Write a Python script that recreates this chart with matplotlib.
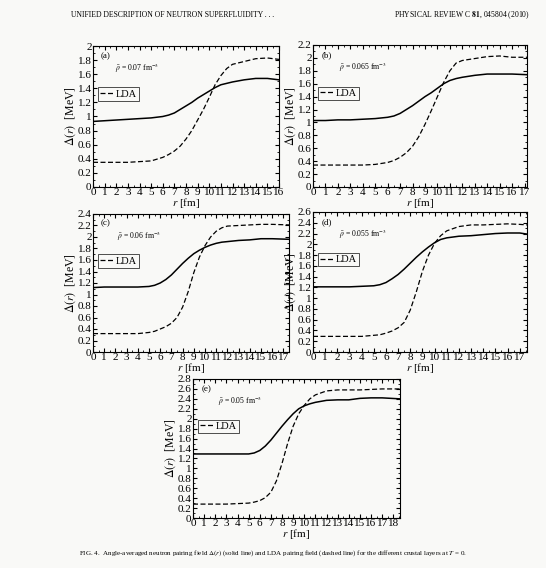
#!/usr/bin/env python3
"""Pairing field profiles, five crustal layers (FIG. 4 recreation)."""

import matplotlib.pyplot as plt
from matplotlib.ticker import MultipleLocator

plt.rcParams['font.family'] = ['Liberation Serif', 'DejaVu Serif']
plt.rcParams['mathtext.fontset'] = 'stix'

# panel labels, mean densities, axis ranges
panels = ['(a)', '(b)', '(c)', '(d)', '(e)']
densities = ['0.07', '0.065', '0.06', '0.055', '0.05']
xmax = [16, 17.2, 17.5, 17.6, 18.6]
ymax = [2.0, 2.2, 2.4, 2.6, 2.8]

# (a) rho = 0.07 fm^-3
r_a = [0, 1, 2, 3, 4, 5, 6, 6.5, 7, 7.5, 8, 8.5, 9, 9.5, 10, 10.5, 11, 11.5, 12, 13, 14, 15, 16]
sol_a = [0.93, 0.94, 0.95, 0.96, 0.97, 0.98, 1.0, 1.02, 1.05, 1.1, 1.15, 1.2, 1.26, 1.31, 1.36, 1.41, 1.45, 1.47, 1.49, 1.52, 1.54, 1.54, 1.52]
lda_a = [0.35, 0.35, 0.35, 0.35, 0.36, 0.37, 0.42, 0.46, 0.51, 0.58, 0.68, 0.8, 0.95, 1.1, 1.27, 1.45, 1.58, 1.68, 1.74, 1.78, 1.82, 1.83, 1.81]

# (b) rho = 0.065 fm^-3
r_b = [0, 1, 2, 3, 4, 5, 6, 6.5, 7, 7.5, 8, 8.5, 9, 9.5, 10, 10.5, 11, 11.5, 12, 13, 14, 15, 16, 17.2]
sol_b = [1.03, 1.03, 1.04, 1.04, 1.05, 1.06, 1.08, 1.1, 1.14, 1.2, 1.26, 1.33, 1.4, 1.46, 1.53, 1.6, 1.65, 1.68, 1.7, 1.73, 1.75, 1.75, 1.75, 1.74]
lda_b = [0.34, 0.34, 0.34, 0.34, 0.34, 0.35, 0.38, 0.41, 0.46, 0.53, 0.63, 0.78, 0.97, 1.18, 1.4, 1.62, 1.8, 1.92, 1.96, 1.99, 2.02, 2.03, 2.01, 2.01]

# (c) rho = 0.06 fm^-3
r_c = [0, 1, 2, 3, 4, 5, 5.5, 6, 6.5, 7, 7.5, 8, 8.5, 9, 9.5, 10, 10.5, 11, 11.5, 12, 13, 14, 15, 16, 17.5]
sol_c = [1.12, 1.13, 1.13, 1.13, 1.13, 1.14, 1.16, 1.2, 1.26, 1.34, 1.44, 1.54, 1.63, 1.71, 1.77, 1.82, 1.86, 1.89, 1.91, 1.92, 1.94, 1.95, 1.97, 1.97, 1.96]
lda_c = [0.32, 0.32, 0.32, 0.32, 0.32, 0.34, 0.36, 0.4, 0.44, 0.5, 0.6, 0.78, 1.05, 1.38, 1.65, 1.85, 2.0, 2.1, 2.16, 2.19, 2.2, 2.21, 2.22, 2.22, 2.21]

# (d) rho = 0.055 fm^-3
r_d = [0, 1, 2, 3, 4, 5, 5.5, 6, 6.5, 7, 7.5, 8, 8.5, 9, 9.5, 10, 10.5, 11, 12, 13, 14, 15, 16, 17, 17.6]
sol_d = [1.21, 1.21, 1.21, 1.21, 1.22, 1.23, 1.25, 1.29, 1.36, 1.44, 1.54, 1.65, 1.76, 1.86, 1.95, 2.03, 2.09, 2.12, 2.15, 2.16, 2.18, 2.2, 2.21, 2.21, 2.19]
lda_d = [0.29, 0.29, 0.29, 0.29, 0.29, 0.31, 0.32, 0.35, 0.39, 0.45, 0.55, 0.78, 1.12, 1.5, 1.8, 2.02, 2.16, 2.25, 2.33, 2.36, 2.36, 2.37, 2.38, 2.37, 2.36]

# (e) rho = 0.05 fm^-3
r_e = [0, 1, 2, 3, 4, 5, 5.5, 6, 6.5, 7, 7.5, 8, 8.5, 9, 9.5, 10, 10.5, 11, 12, 13, 14, 15, 16, 17, 18.6]
sol_e = [1.29, 1.29, 1.29, 1.29, 1.29, 1.29, 1.31, 1.36, 1.45, 1.57, 1.71, 1.85, 1.98, 2.1, 2.2, 2.26, 2.3, 2.33, 2.37, 2.38, 2.38, 2.41, 2.42, 2.42, 2.4]
lda_e = [0.28, 0.28, 0.28, 0.28, 0.29, 0.3, 0.32, 0.35, 0.41, 0.52, 0.75, 1.1, 1.5, 1.85, 2.1, 2.27, 2.4, 2.48, 2.56, 2.58, 2.58, 2.58, 2.59, 2.6, 2.6]

radii = [r_a, r_b, r_c, r_d, r_e]
solid = [sol_a, sol_b, sol_c, sol_d, sol_e]
lda = [lda_a, lda_b, lda_c, lda_d, lda_e]

# axes boxes in pixels: left, top, right, bottom
boxes = [(93, 46, 279, 187), (313, 45, 527, 187), (93, 214, 289, 352),
         (313, 212, 527, 352), (193, 379, 400, 518)]

W, H = 546, 568
bg = '#f9f9f7'
fig = plt.figure(figsize=(W / 100, H / 100), dpi=100, facecolor=bg)

for i in range(5):
    x0, y0, x1, y1 = boxes[i]
    ax = fig.add_axes([x0 / W, 1 - y1 / H, (x1 - x0) / W, (y1 - y0) / H])
    ax.set_facecolor(bg)
    ax.plot(radii[i], solid[i], color='black', lw=1.1)
    ax.plot(radii[i], lda[i], color='black', lw=0.9, ls=(0, (4, 2)), label='LDA')
    ax.set_xlim(0, xmax[i])
    ax.set_ylim(0, ymax[i])
    ax.xaxis.set_major_locator(MultipleLocator(1))
    ax.xaxis.set_minor_locator(MultipleLocator(0.5))
    ax.yaxis.set_major_locator(MultipleLocator(0.2))
    ax.yaxis.set_minor_locator(MultipleLocator(0.1))
    ax.yaxis.set_major_formatter(lambda v, p: f'{v:g}')
    ax.tick_params(which='both', direction='in', top=True, right=True, labelsize=8, pad=1)
    ax.tick_params(which='major', length=3)
    ax.tick_params(which='minor', length=1.5)
    for s in ax.spines.values():
        s.set_linewidth(0.8)
    ax.set_xlabel(r'$r$ [fm]', fontsize=8, labelpad=-1)
    ax.set_ylabel(r'$\Delta(r)$  [MeV]', fontsize=8.5, labelpad=0)
    ax.text(0.04, 0.93, panels[i], transform=ax.transAxes, fontsize=6.5, va='center')
    ax.text(0.12, 0.84, r'$\bar{\rho}$ = ' + densities[i] + r' fm$^{-3}$',
            transform=ax.transAxes, fontsize=5.5, va='center')
    leg = ax.legend(loc='center left', bbox_to_anchor=(0.0, 0.66), fontsize=7.5,
                    handlelength=1.2, handletextpad=0.3, borderpad=0.2,
                    fancybox=False, frameon=True)
    leg.get_frame().set_edgecolor('black')
    leg.get_frame().set_linewidth(0.6)
    leg.get_frame().set_facecolor(bg)

fig.text(0.13, 1 - 15 / H, 'UNIFIED DESCRIPTION OF NEUTRON SUPERFLUIDITY . . .',
         fontsize=5.5, va='center')
fig.text(0.97, 1 - 15 / H, r'PHYSICAL REVIEW C $\mathbf{81}$, 045804 (2010)',
         fontsize=5.5, va='center', ha='right')
fig.text(0.5, 1 - 553 / H,
         r'FIG. 4.  Angle-averaged neutron pairing field $\Delta(r)$ (solid line) and LDA pairing field '
         r'(dashed line) for the different crustal layers at $T$ = 0.',
         fontsize=5, ha='center', va='center')

plt.savefig('out.png', dpi=100, facecolor=fig.get_facecolor())
